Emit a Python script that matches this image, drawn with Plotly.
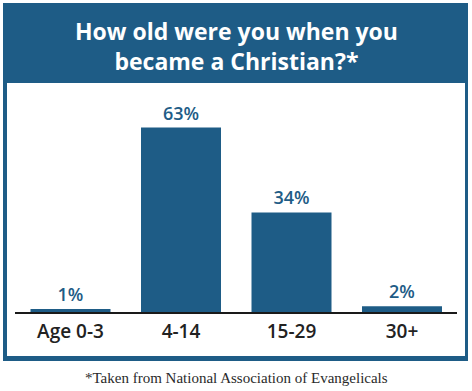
import plotly.graph_objects as go

categories = ["Age 0-3", "4-14", "15-29", "30+"]
values = [1, 63, 34, 2]
labels = ["1%", "63%", "34%", "2%"]

BLUE = "#1e5c86"
W, H = 472, 391

def px(x):
    return x / W

def py(y):
    return 1 - y / H

fig = go.Figure(go.Bar(
    x=categories, y=values,
    text=labels, textposition="outside",
    textfont=dict(family="Open Sans", size=18, color=BLUE, weight=600),
    marker=dict(color=BLUE, line=dict(width=0)),
    cliponaxis=False,
    hoverinfo="skip",
))

fig.update_layout(
    width=W, height=H,
    margin=dict(l=0, r=0, t=0, b=0),
    paper_bgcolor="white",
    plot_bgcolor="rgba(0,0,0,0)",
    bargap=0.276,
    showlegend=False,
    xaxis=dict(
        domain=[px(15.25), px(457.25)],
        showline=True, linecolor="#1a1a1a", linewidth=1.5,
        showgrid=False, ticks="",
        tickfont=dict(family="Open Sans", size=19, color="#222222", weight=600),
        ticklabelstandoff=1,
    ),
    yaxis=dict(
        domain=[py(312), py(107)],
        range=[0, 70],
        visible=False,
    ),
    shapes=[
        dict(type="rect", xref="paper", yref="paper",
             x0=px(3), x1=px(468), y0=py(361), y1=py(3),
             fillcolor=BLUE, line=dict(width=0), layer="below"),
        dict(type="rect", xref="paper", yref="paper",
             x0=px(7), x1=px(465), y0=py(356), y1=py(83),
             fillcolor="white", line=dict(width=0), layer="below"),
    ],
    annotations=[
        dict(text="<b>How old were you when you<br>became a Christian?*</b>",
             xref="paper", yref="paper", x=0.5, y=py(46),
             xanchor="center", yanchor="middle", showarrow=False,
             font=dict(family="Open Sans", size=23, color="white")),
        dict(text="*Taken from National Association of Evangelicals",
             xref="paper", yref="paper", x=px(236), y=py(378),
             xanchor="center", yanchor="middle", showarrow=False,
             font=dict(family="Liberation Serif", size=15, color="#2a2a2a")),
    ],
)

fig.write_html("out.html", config={"displayModeBar": False},
               post_script="document.body.style.margin='0';")
